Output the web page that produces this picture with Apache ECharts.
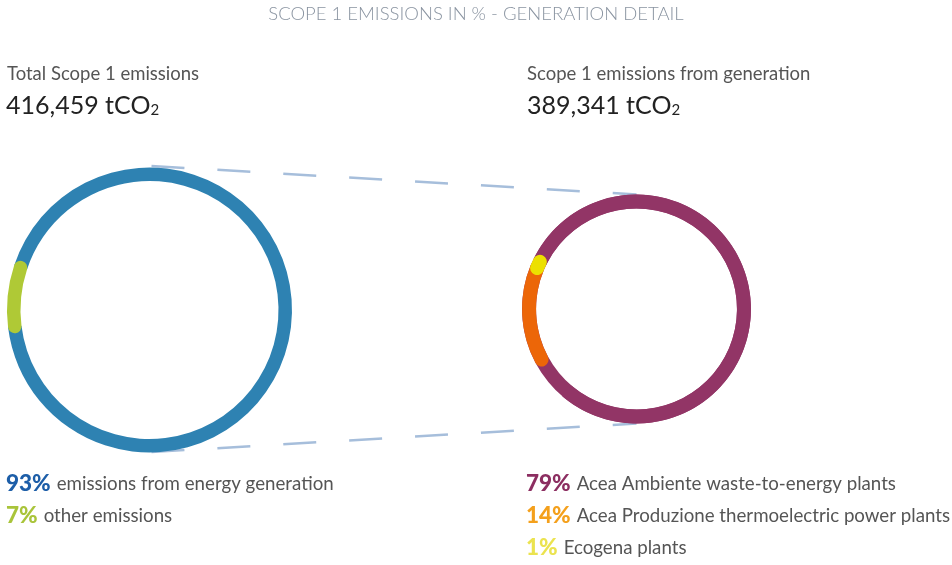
<!DOCTYPE html>
<html>
<head>
<meta charset="utf-8">
<title>Scope 1 emissions in % - generation detail</title>
<script src="https://cdn.jsdelivr.net/npm/echarts@6/dist/echarts.min.js"></script>
<style>
  html, body { margin: 0; padding: 0; background: #ffffff; }
  #chart { width: 952px; height: 565px; }
</style>
</head>
<body>
<div id="chart"></div>
<script>
// ---- data ----
const chartTitle = 'SCOPE 1 EMISSIONS IN % - GENERATION DETAIL';

const totalHeading = 'Total Scope 1 emissions';
const totalValue = '416,459';
const totalCategories = ['emissions from energy generation', 'other emissions'];
const totalShares = [93, 7];

const generationHeading = 'Scope 1 emissions from generation';
const generationValue = '389,341';
const generationCategories = [
  'Acea Ambiente waste-to-energy plants',
  'Acea Produzione thermoelectric power plants',
  'Ecogena plants'
];
const generationShares = [79, 14, 1];

const unit = 'tCO';
const unitSub = '2';

// ---- styling ----
const FONT = 'Lato, "Open Sans", sans-serif';
const totalColors = ['#2e82b2', '#afc936'];           // ring colours
const totalTextColors = ['#1d5ea8', '#a9c43a'];       // percentage label colours
const generationColors = ['#923566', '#ec6608', '#ece000'];
const generationTextColors = ['#8c2e61', '#f4a01c', '#ebe34f'];

// ring geometry
const ringL = { cx: 149.5, cy: 310, r0: 129, r: 142.5, start: 187 };
const ringR = { cx: 636.5, cy: 309, r0: 100.5, r: 114.5, start: 208 };

const chart = echarts.init(document.getElementById('chart'), null, { renderer: 'canvas' });

function ringPolar(g) {
  return { center: [g.cx, g.cy], radius: [g.r0, g.r] };
}

// left ring: main slice (flat ends) with the smaller slice drawn on top with round caps
const series = [
  {
    name: totalCategories[1], type: 'bar', coordinateSystem: 'polar', polarIndex: 0,
    stack: 'total', data: [totalShares[1]], roundCap: true, barWidth: '100%',
    itemStyle: { color: totalColors[1] }, z: 4, silent: true
  },
  {
    name: totalCategories[0], type: 'bar', coordinateSystem: 'polar', polarIndex: 0,
    stack: 'total', data: [totalShares[0]], barWidth: '100%',
    itemStyle: { color: totalColors[0] }, z: 3, silent: true
  },
  // right ring
  {
    name: generationCategories[1], type: 'bar', coordinateSystem: 'polar', polarIndex: 1,
    stack: 'gen', data: [generationShares[1]], roundCap: true, barWidth: '100%',
    itemStyle: { color: generationColors[1] }, z: 4, silent: true
  },
  {
    name: generationCategories[2], type: 'bar', coordinateSystem: 'polar', polarIndex: 1,
    stack: 'gen', data: [generationShares[2]], roundCap: true, barWidth: '100%',
    itemStyle: { color: generationColors[2] }, z: 5, silent: true
  },
  {
    name: generationCategories[0], type: 'bar', coordinateSystem: 'polar', polarIndex: 1,
    stack: 'gen', data: [generationShares[0]], barWidth: '100%',
    showBackground: true, backgroundStyle: { color: generationColors[0], opacity: 1 },
    itemStyle: { color: generationColors[0] }, z: 3, silent: true
  }
];

// connector lines between the two rings (dashed)
const dashStyle = { stroke: '#a6bedb', lineWidth: 2.5, lineDash: [33, 33] };
const graphics = [
  {
    type: 'line', z: 0, silent: true,
    shape: { x1: ringL.cx + 2, y1: ringL.cy - ringL.r - 1.5, x2: ringR.cx, y2: ringR.cy - ringR.r },
    style: dashStyle
  },
  {
    type: 'line', z: 0, silent: true,
    shape: { x1: ringL.cx + 2, y1: ringL.cy + ringL.r - 0.5, x2: ringR.cx, y2: ringR.cy + ringR.r },
    style: dashStyle
  },
  // title
  {
    type: 'text', left: 'center', top: 5, silent: true,
    style: { text: chartTitle, font: '300 18.5px ' + FONT, fill: '#8a94a1' }
  },
  // headings
  {
    type: 'text', x: 7, y: 65, silent: true,
    style: { text: totalHeading, font: '18.5px ' + FONT, fill: '#555555' }
  },
  {
    type: 'text', x: 527, y: 65, silent: true,
    style: { text: generationHeading, font: '18.5px ' + FONT, fill: '#555555' }
  },
  {
    type: 'text', x: 6, y: 88, silent: true,
    style: {
      text: '{v|' + totalValue + ' ' + unit + '}{s|' + unitSub + '}',
      rich: {
        v: { font: '25px ' + FONT, fill: '#222222', lineHeight: 30, verticalAlign: 'bottom' },
        s: { font: '15px ' + FONT, fill: '#222222', lineHeight: 30, verticalAlign: 'bottom' }
      }
    }
  },
  {
    type: 'text', x: 527, y: 88, silent: true,
    style: {
      text: '{v|' + generationValue + ' ' + unit + '}{s|' + unitSub + '}',
      rich: {
        v: { font: '25px ' + FONT, fill: '#222222', lineHeight: 30, verticalAlign: 'bottom' },
        s: { font: '15px ' + FONT, fill: '#222222', lineHeight: 30, verticalAlign: 'bottom' }
      }
    }
  }
];

// legend lines built from the data
function legendLine(x, y, share, label, color) {
  return {
    type: 'text', x: x, y: y, silent: true,
    style: {
      text: '{p|' + share + '%}{t|' + label + '}',
      rich: {
        p: { font: '900 22.5px ' + FONT, fill: color, padding: [0, 6, 0, 0], lineHeight: 26 },
        t: { font: '18.7px ' + FONT, fill: '#555555', lineHeight: 26 }
      }
    }
  };
}
totalShares.forEach(function (v, i) {
  graphics.push(legendLine(6, 471 + i * 32, v, totalCategories[i], totalTextColors[i]));
});
generationShares.forEach(function (v, i) {
  graphics.push(legendLine(526, 471 + i * 32, v, generationCategories[i], generationTextColors[i]));
});

chart.setOption({
  animation: false,
  backgroundColor: '#ffffff',
  polar: [ringPolar(ringL), ringPolar(ringR)],
  angleAxis: [
    { polarIndex: 0, type: 'value', min: 0, max: 100, startAngle: ringL.start, clockwise: true, show: false },
    { polarIndex: 1, type: 'value', min: 0, max: 100, startAngle: ringR.start, clockwise: true, show: false }
  ],
  radiusAxis: [
    { polarIndex: 0, type: 'category', data: ['ring'], show: false },
    { polarIndex: 1, type: 'category', data: ['ring'], show: false }
  ],
  series: series,
  graphic: graphics
});
</script>
</body>
</html>
